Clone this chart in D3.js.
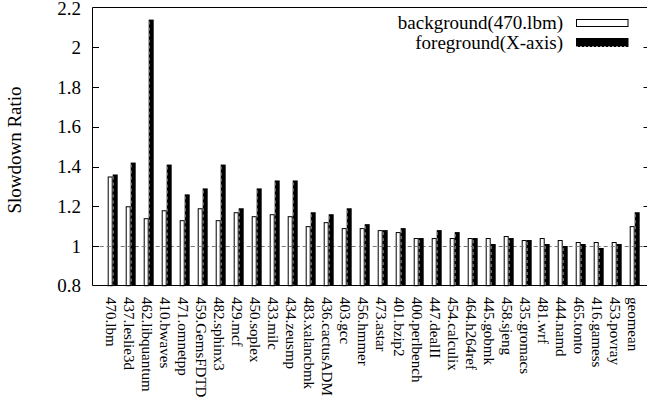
<!DOCTYPE html>
<html>
<head>
<meta charset="utf-8">
<script src="https://cdn.jsdelivr.net/npm/d3@7"></script>
<style>
  html, body { margin: 0; padding: 0; background: #fff; }
  svg { display: block; }
  text { font-family: "Liberation Serif", "DejaVu Serif", serif; fill: #000; }
</style>
</head>
<body>
<div id="chart"></div>
<script>
const categories = ["470.lbm","437.leslie3d","462.libquantum","410.bwaves","471.omnetpp","459.GemsFDTD","482.sphinx3","429.mcf","450.soplex","433.milc","434.zeusmp","483.xalancbmk","436.cactusADM","403.gcc","456.hmmer","473.astar","401.bzip2","400.perlbench","447.dealII","454.calculix","464.h264ref","445.gobmk","458.sjeng","435.gromacs","481.wrf","444.namd","465.tonto","416.gamess","453.povray","geomean"];
const background = [1.35,1.20,1.14,1.18,1.13,1.19,1.13,1.17,1.15,1.16,1.15,1.10,1.12,1.09,1.09,1.08,1.07,1.04,1.04,1.04,1.04,1.04,1.05,1.03,1.04,1.03,1.02,1.02,1.02,1.10];
const foreground = [1.36,1.42,2.14,1.41,1.26,1.29,1.41,1.19,1.29,1.33,1.33,1.17,1.16,1.19,1.11,1.08,1.09,1.04,1.08,1.07,1.04,1.01,1.04,1.03,1.01,1.00,1.01,0.99,1.01,1.17];
const yTicks = [0.8,1.0,1.2,1.4,1.6,1.8,2.0,2.2];
const yTickLabels = ["0.8","1","1.2","1.4","1.6","1.8","2","2.2"];
const seriesNames = ["background(470.lbm)","foreground(X-axis)"];
const yTitle = "Slowdown Ratio";

const W = 647, H = 403;
const plotL = 92.7, plotR = 650, plotT = 7.7, plotB = 285.7;
const barW = 5;

const svg = d3.select("#chart").append("svg").attr("width", W).attr("height", H);

const x = d3.scaleLinear().domain([0, categories.length - 1]).range([112.7, 634.7]);
const y = d3.scaleLinear().domain([0.8, 2.2]).range([plotB, plotT]);

// white (background) bars
svg.append("g").selectAll("rect").data(background).join("rect")
  .attr("x", (d, i) => x(i) - barW + 0.5)
  .attr("y", d => y(d) + 0.5)
  .attr("width", barW - 1)
  .attr("height", d => y(0.8) - y(d) - 0.5)
  .attr("fill", "#fff").attr("stroke", "#000").attr("stroke-width", 1);

// reference dashed line at 1.0
svg.append("line")
  .attr("x1", plotL).attr("x2", plotR)
  .attr("y1", Math.round(y(1.0)) + 0.5).attr("y2", Math.round(y(1.0)) + 0.5)
  .attr("stroke", "#777").attr("stroke-width", 1).attr("stroke-dasharray", "4,3");

// black (foreground) bars
const fg = svg.append("g");
fg.selectAll("rect").data(foreground).join("rect")
  .attr("x", (d, i) => x(i))
  .attr("y", d => y(d))
  .attr("width", barW)
  .attr("height", d => y(0.8) - y(d))
  .attr("fill", "#000");
fg.selectAll("line").data(foreground).join("line")
  .attr("x1", (d, i) => x(i) + 0.5).attr("x2", (d, i) => x(i) + 0.5)
  .attr("y1", d => y(d) + 2).attr("y2", y(0.8))
  .attr("stroke", "#999").attr("stroke-width", 1).attr("stroke-dasharray", "3,3");

// frame
const frame = svg.append("g").attr("stroke", "#000").attr("stroke-width", 1).attr("fill", "none");
frame.append("line").attr("x1", 92.5).attr("x2", 92.5).attr("y1", 7.5).attr("y2", 285.5);
frame.append("line").attr("x1", 92.5).attr("x2", W + 5).attr("y1", 7.5).attr("y2", 7.5);
frame.append("line").attr("x1", 92.5).attr("x2", W + 5).attr("y1", 285.5).attr("y2", 285.5);
frame.append("line").attr("x1", plotR - 0.5).attr("x2", plotR - 0.5).attr("y1", 7.5).attr("y2", 285.5);

// y ticks (left, mirrored right)
const ticks = svg.append("g");
yTicks.forEach((v, i) => {
  const yy = Math.round(y(v)) + 0.5;
  if (i > 0 && i < yTicks.length - 1) {
    ticks.append("line").attr("x1", 92.5).attr("x2", 99).attr("y1", yy).attr("y2", yy).attr("stroke", "#000");
    ticks.append("line").attr("x1", plotR - 6.5).attr("x2", plotR).attr("y1", yy).attr("y2", yy).attr("stroke", "#000");
  }
  ticks.append("text")
    .attr("x", 81).attr("y", y(v) + (i === yTicks.length - 1 ? 0.6 : 0)).attr("dy", "0.35em")
    .attr("text-anchor", "end").style("font-size", "19px")
    .text(yTickLabels[i]);
});

// category labels
svg.append("g").selectAll("text").data(categories).join("text")
  .attr("transform", (d, i) => `translate(${x(i) - 1.5},297) rotate(90)`)
  .attr("dy", "0.35em")
  .attr("text-anchor", "start")
  .style("font-size", "15px")
  .text(d => d);

// y title
svg.append("text")
  .attr("transform", "translate(14,150) rotate(-90)")
  .attr("text-anchor", "middle").attr("dy", "0.35em")
  .style("font-size", "19px")
  .text(yTitle);

// legend
const leg = svg.append("g");
leg.append("text").attr("x", 563).attr("y", 23).attr("dy", "0.33em")
  .attr("text-anchor", "end").style("font-size", "19px").text(seriesNames[0]);
leg.append("text").attr("x", 563).attr("y", 42.5).attr("dy", "0.33em")
  .attr("text-anchor", "end").style("font-size", "19px").text(seriesNames[1]);
leg.append("rect").attr("x", 576.5).attr("y", 19.5).attr("width", 51.5).attr("height", 7)
  .attr("fill", "#fff").attr("stroke", "#000").attr("stroke-width", 1);
leg.append("rect").attr("x", 576).attr("y", 38).attr("width", 52.5).attr("height", 9)
  .attr("fill", "#000");
leg.append("line").attr("x1", 576).attr("x2", 628.5).attr("y1", 46.5).attr("y2", 46.5)
  .attr("stroke", "#999").attr("stroke-dasharray", "2,2");
</script>
</body>
</html>
